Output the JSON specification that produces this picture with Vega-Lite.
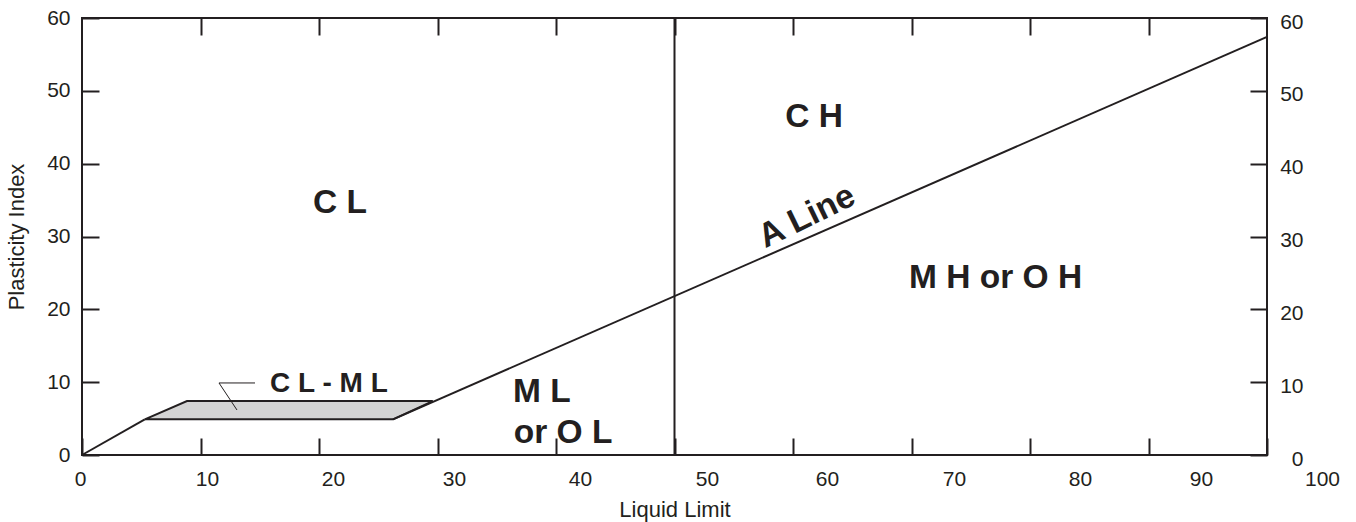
{
  "$schema": "https://vega.github.io/schema/vega-lite/v6.json",
  "width": 1185,
  "height": 437,
  "autosize": {"type": "none"},
  "padding": {"left": 82, "top": 18, "right": 89, "bottom": 67},
  "background": "white",
  "config": {
    "view": {"stroke": "#231f20", "strokeWidth": 2},
    "axis": {
      "domain": false,
      "grid": false,
      "ticks": true,
      "tickColor": "#231f20",
      "tickWidth": 2,
      "tickSize": -17,
      "labelFont": "Liberation Sans",
      "labelFontSize": 21,
      "labelColor": "#231f20",
      "titleFont": "Liberation Sans",
      "titleFontSize": 22,
      "titleFontWeight": "normal",
      "titleColor": "#231f20"
    }
  },
  "datasets": {
    "band": [
      {"x": 5.3, "lo": 4.9, "hi": 4.9},
      {"x": 8.86, "lo": 4.9, "hi": 7.4},
      {"x": 26.25, "lo": 4.9, "hi": 7.4},
      {"x": 29.6, "lo": 7.4, "hi": 7.4}
    ],
    "lines": [
      {"series": "origin", "order": 1, "x": 0, "y": 0},
      {"series": "origin", "order": 2, "x": 5.3, "y": 4.9},
      {"series": "aline", "order": 1, "x": 26.25, "y": 4.9},
      {"series": "aline", "order": 2, "x": 100, "y": 57.4},
      {"series": "vline", "order": 1, "x": 50, "y": 0},
      {"series": "vline", "order": 2, "x": 50, "y": 60}
    ],
    "leader": [
      {"order": 1, "x": 13.08, "y": 6.18},
      {"order": 2, "x": 11.56, "y": 9.89},
      {"order": 3, "x": 14.6, "y": 9.89}
    ],
    "zones": [
      {"label": "C L", "x": 21.77, "y": 33.24},
      {"label": "C H", "x": 61.77, "y": 45.1},
      {"label": "M H or O H", "x": 77.1, "y": 22.9},
      {"label": "M L", "x": 38.8, "y": 7.28},
      {"label": "or O L", "x": 40.6, "y": 1.65}
    ],
    "small": [
      {"label": "C L - M L", "x": 20.84, "y": 8.65}
    ],
    "aline_label": [
      {"label": "A Line", "x": 61.18, "y": 32.7}
    ]
  },
  "layer": [
    {
      "data": {"name": "band"},
      "mark": {"type": "area", "fill": "#d4d4d4", "stroke": "#231f20", "strokeWidth": 2, "opacity": 1},
      "encoding": {
        "x": {
          "field": "x", "type": "quantitative",
          "scale": {"domain": [0, 100], "nice": false, "zero": false},
          "axis": {
            "orient": "bottom",
            "title": "Liquid Limit",
            "values": [0, 10, 20, 30, 40, 50, 60, 70, 80, 90, 100],
            "labelPadding": 30,
            "titlePadding": 10,
            "labelFlush": false,
            "labelOverlap": false,
            "labelOffset": {
              "condition": [
                {"test": "datum.value == 10", "value": 6.5},
                {"test": "datum.value == 20", "value": 14},
                {"test": "datum.value == 30", "value": 16.5},
                {"test": "datum.value == 40", "value": 24},
                {"test": "datum.value == 50", "value": 32.5},
                {"test": "datum.value == 60", "value": 34},
                {"test": "datum.value == 70", "value": 42.5},
                {"test": "datum.value == 80", "value": 50},
                {"test": "datum.value == 90", "value": 52.5},
                {"test": "datum.value == 100", "value": 55}
              ],
              "value": -2
            }
          }
        },
        "y": {
          "field": "lo", "type": "quantitative",
          "scale": {"domain": [0, 60], "nice": false, "zero": false},
          "axis": {
            "orient": "left",
            "title": "Plasticity Index",
            "values": [0, 10, 20, 30, 40, 50, 60],
            "labelPadding": 29,
            "titlePadding": 18,
            "labelFlush": false,
            "labelOverlap": false
          }
        },
        "y2": {"field": "hi"}
      }
    },
    {
      "data": {"name": "lines"},
      "mark": {"type": "line", "color": "#231f20", "strokeWidth": 2},
      "encoding": {
        "x": {
          "field": "x", "type": "quantitative",
          "axis": {
            "orient": "top",
            "title": null,
            "labels": false,
            "values": [10, 20, 30, 40, 50, 60, 70, 80, 90]
          }
        },
        "y": {
          "field": "y", "type": "quantitative",
          "axis": {
            "orient": "right",
            "title": null,
            "values": [0, 10, 20, 30, 40, 50, 60],
            "labelAlign": "right",
            "labelPadding": 53,
            "labelOffset": 4,
            "labelFlush": false,
            "labelOverlap": false
          }
        },
        "detail": {"field": "series"},
        "order": {"field": "order"}
      }
    },
    {
      "data": {"name": "leader"},
      "mark": {"type": "line", "color": "#231f20", "strokeWidth": 1},
      "encoding": {
        "x": {"field": "x", "type": "quantitative", "axis": null},
        "y": {"field": "y", "type": "quantitative", "axis": null},
        "order": {"field": "order"}
      }
    },
    {
      "data": {"name": "zones"},
      "mark": {"type": "text", "font": "Liberation Sans", "fontWeight": "bold", "fontSize": 33.5, "align": "center", "baseline": "alphabetic", "color": "#231f20"},
      "encoding": {
        "x": {"field": "x", "type": "quantitative", "axis": null},
        "y": {"field": "y", "type": "quantitative", "axis": null},
        "text": {"field": "label"}
      }
    },
    {
      "data": {"name": "small"},
      "mark": {"type": "text", "font": "Liberation Sans", "fontWeight": "bold", "fontSize": 28, "align": "center", "baseline": "alphabetic", "color": "#231f20"},
      "encoding": {
        "x": {"field": "x", "type": "quantitative", "axis": null},
        "y": {"field": "y", "type": "quantitative", "axis": null},
        "text": {"field": "label"}
      }
    },
    {
      "data": {"name": "aline_label"},
      "mark": {"type": "text", "font": "Liberation Sans", "fontWeight": "bold", "fontSize": 34, "align": "center", "baseline": "middle", "angle": -26, "color": "#231f20"},
      "encoding": {
        "x": {"field": "x", "type": "quantitative", "axis": null},
        "y": {"field": "y", "type": "quantitative", "axis": null},
        "text": {"field": "label"}
      }
    }
  ]
}
